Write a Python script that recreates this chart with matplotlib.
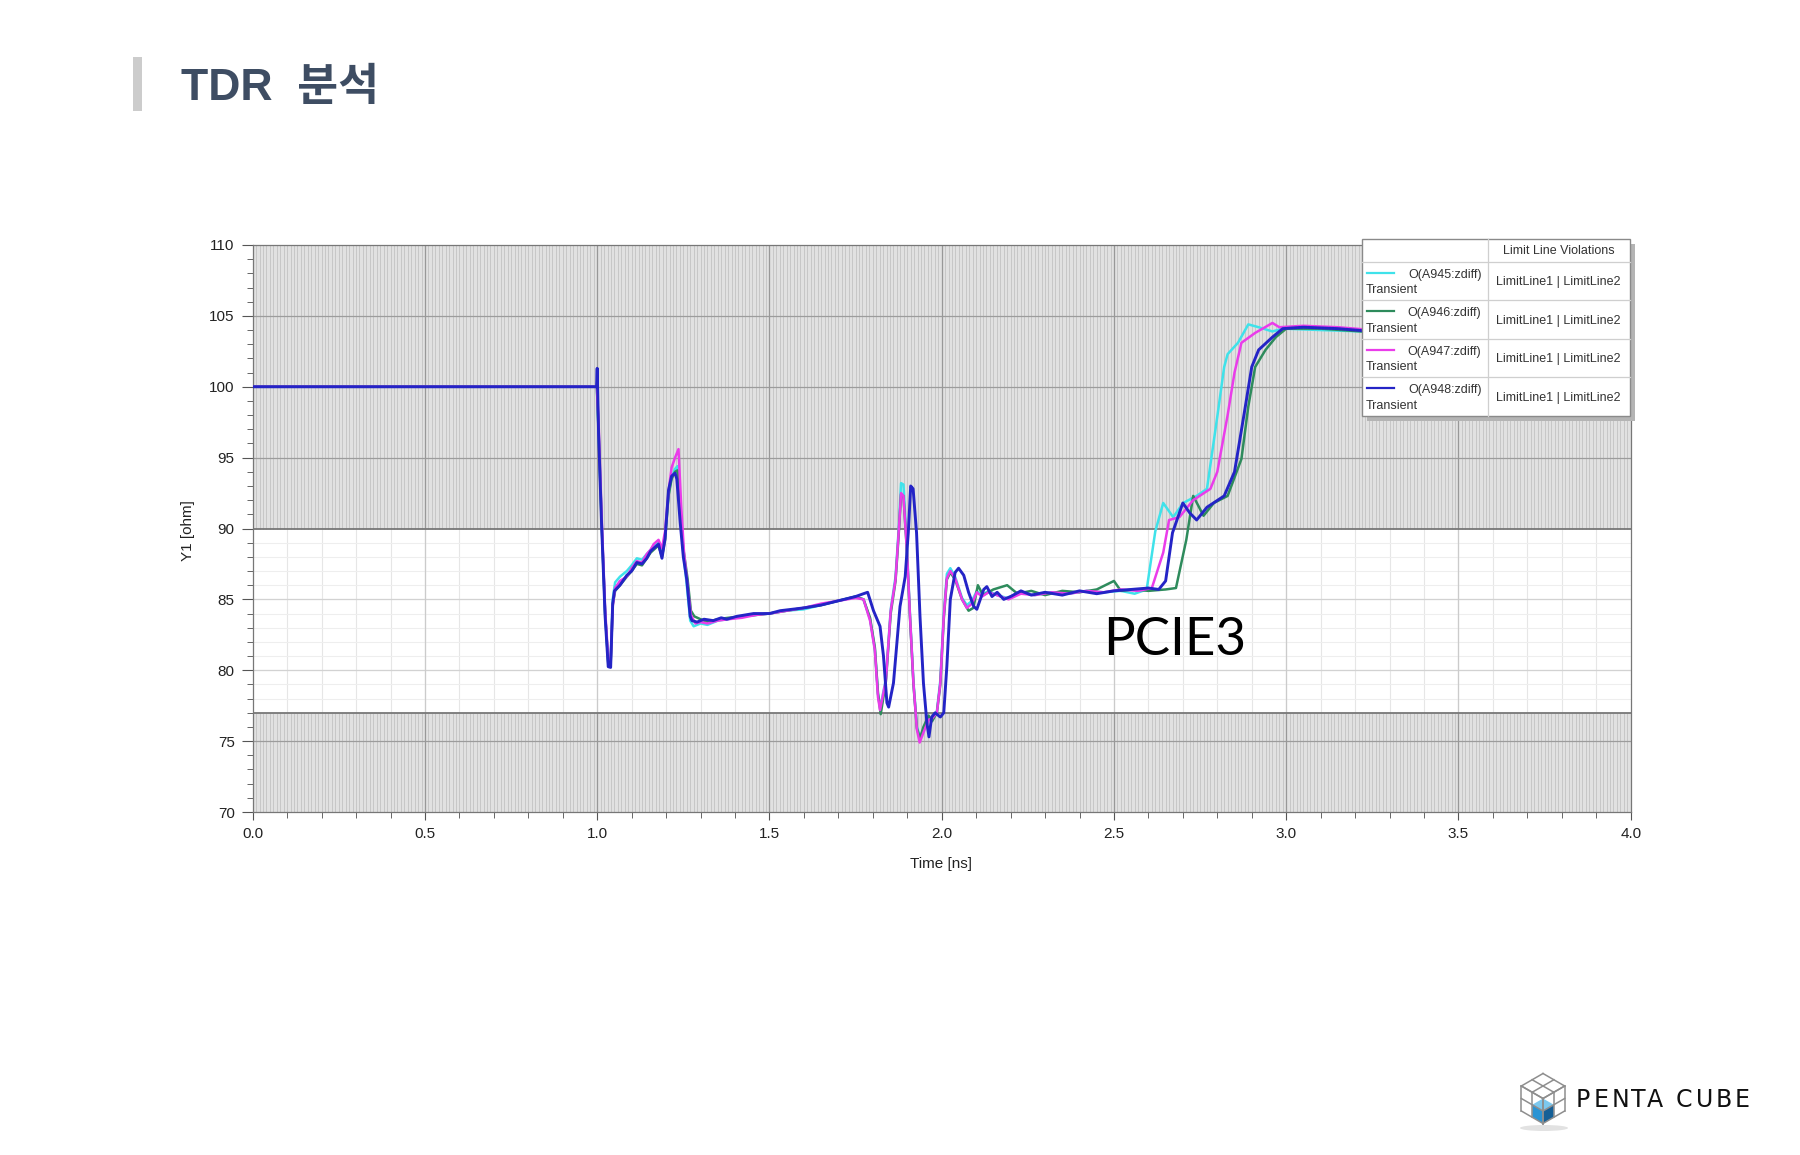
import numpy as np
import matplotlib
matplotlib.use('Agg')
import matplotlib.pyplot as plt
from matplotlib.patches import Rectangle, Polygon, Ellipse
from matplotlib.ticker import MultipleLocator, FormatStrFormatter

# ---------------- data ----------------
series_names = ['O(A945:zdiff)', 'O(A946:zdiff)', 'O(A947:zdiff)', 'O(A948:zdiff)']
series_sub = 'Transient'
violations = 'LimitLine1 | LimitLine2'
limit_upper = 90
limit_lower = 77

a945 = [(0.000,100.0),(0.999,100.0),(1.004,97.0),(1.013,90.5),(1.023,84.0),(1.032,80.6),(1.039,80.5),(1.045,85.0),
        (1.052,86.2),(1.066,86.6),(1.086,87.0),(1.100,87.4),(1.115,87.9),(1.130,87.8),(1.144,88.2),(1.155,88.5),
        (1.164,88.8),(1.178,89.0),(1.188,88.3),(1.197,89.5),(1.207,92.4),(1.216,93.6),(1.226,94.2),(1.233,94.4),
        (1.241,91.0),(1.250,88.3),(1.260,86.0),(1.270,83.5),(1.280,83.1),(1.300,83.3),(1.320,83.2),(1.350,83.5),
        (1.380,83.6),(1.420,83.8),(1.460,83.9),(1.500,84.0),(1.550,84.2),(1.600,84.3),(1.650,84.6),(1.700,84.9),
        (1.750,85.2),(1.773,85.0),(1.792,83.6),(1.806,81.5),(1.815,78.3),(1.822,77.4),(1.838,79.4),(1.852,84.3),
        (1.866,86.6),(1.875,89.9),(1.882,93.2),(1.889,93.1),(1.899,88.7),(1.908,83.9),(1.918,79.2),(1.928,76.0),
        (1.937,75.3),(1.947,75.8),(1.962,76.7),(1.972,76.5),(1.986,77.1),(1.996,79.3),(2.006,84.0),(2.015,86.8),
        (2.025,87.2),(2.039,86.6),(2.059,85.1),(2.073,84.6),(2.088,84.9),(2.102,85.6),(2.117,85.3),(2.136,85.6),
        (2.160,85.3),(2.190,85.1),(2.230,85.5),(2.270,85.3),(2.320,85.5),(2.370,85.4),(2.420,85.6),(2.470,85.5),
        (2.520,85.6),(2.560,85.4),(2.595,85.7),(2.620,89.8),(2.643,91.8),(2.672,90.8),(2.701,91.8),(2.740,92.3),
        (2.770,92.8),(2.800,97.9),(2.820,101.4),(2.830,102.3),(2.860,103.1),(2.890,104.4),(2.920,104.2),
        (2.960,103.9),(2.990,104.1),(3.100,104.0),(3.220,103.9),(3.500,103.9),(4.000,103.9)]

a946 = [(0.000,100.0),(0.999,100.0),(1.004,96.8),(1.013,90.3),(1.023,84.0),(1.032,80.5),(1.039,80.4),(1.045,84.6),
        (1.052,85.6),(1.066,86.0),(1.086,86.6),(1.100,87.0),(1.115,87.5),(1.130,87.4),(1.144,87.9),(1.155,88.3),
        (1.164,88.5),(1.178,88.8),(1.188,88.0),(1.197,89.2),(1.207,92.3),(1.216,93.5),(1.226,94.0),(1.233,94.1),
        (1.241,91.0),(1.250,88.6),(1.262,86.5),(1.272,84.2),(1.282,83.8),(1.300,83.6),(1.320,83.4),(1.350,83.6),
        (1.380,83.7),(1.420,83.8),(1.460,83.9),(1.500,84.0),(1.550,84.2),(1.600,84.4),(1.650,84.6),(1.700,84.9),
        (1.750,85.2),(1.773,85.0),(1.792,83.7),(1.806,81.6),(1.815,78.4),(1.823,76.9),(1.838,79.2),(1.852,84.0),
        (1.866,86.3),(1.875,89.5),(1.882,92.4),(1.889,92.3),(1.899,88.4),(1.908,83.7),(1.918,79.0),(1.928,75.9),
        (1.937,75.2),(1.947,76.0),(1.962,76.8),(1.972,76.4),(1.986,77.0),(1.996,79.0),(2.006,83.6),(2.015,86.4),
        (2.025,86.9),(2.039,86.4),(2.059,85.0),(2.078,84.2),(2.092,84.4),(2.105,86.0),(2.120,85.3),(2.150,85.7),
        (2.190,86.0),(2.220,85.4),(2.260,85.6),(2.300,85.3),(2.350,85.6),(2.400,85.5),(2.450,85.7),(2.500,86.3),
        (2.520,85.6),(2.560,85.7),(2.600,85.6),(2.650,85.7),(2.680,85.8),(2.710,89.2),(2.730,92.3),(2.760,90.9),
        (2.790,91.8),(2.830,92.3),(2.870,94.9),(2.890,98.6),(2.910,101.4),(2.940,102.6),(2.970,103.5),
        (3.000,104.1),(3.100,104.1),(3.220,103.9),(3.500,103.9),(4.000,103.9)]

a947 = [(0.000,100.0),(0.999,100.0),(1.004,97.5),(1.013,90.8),(1.023,84.3),(1.032,80.8),(1.039,80.6),(1.045,84.5),
        (1.052,85.8),(1.066,86.3),(1.086,86.6),(1.100,87.2),(1.115,87.7),(1.130,87.6),(1.144,88.2),(1.155,88.5),
        (1.164,88.9),(1.178,89.2),(1.188,88.6),(1.197,89.8),(1.207,92.6),(1.216,94.3),(1.226,95.0),(1.236,95.6),
        (1.244,91.5),(1.252,88.3),(1.262,86.0),(1.272,83.9),(1.285,83.3),(1.300,83.4),(1.320,83.3),(1.350,83.5),
        (1.380,83.6),(1.420,83.7),(1.460,83.9),(1.500,84.0),(1.550,84.2),(1.600,84.4),(1.650,84.7),(1.700,84.9),
        (1.750,85.1),(1.773,85.0),(1.792,83.5),(1.806,81.4),(1.815,78.1),(1.821,77.2),(1.838,79.3),(1.852,84.2),
        (1.866,86.4),(1.875,89.7),(1.882,92.5),(1.889,92.3),(1.899,88.5),(1.908,83.8),(1.918,79.1),(1.928,75.8),
        (1.936,74.9),(1.947,75.6),(1.962,76.5),(1.972,76.6),(1.986,77.0),(1.996,79.1),(2.006,83.8),(2.015,86.5),
        (2.025,87.0),(2.039,86.5),(2.059,85.0),(2.073,84.4),(2.088,84.7),(2.102,85.5),(2.117,85.2),(2.136,85.5),
        (2.160,85.3),(2.194,85.0),(2.230,85.4),(2.270,85.3),(2.320,85.5),(2.370,85.4),(2.420,85.6),(2.470,85.5),
        (2.520,85.7),(2.570,85.6),(2.610,85.8),(2.643,88.3),(2.660,90.6),(2.690,90.8),(2.730,92.0),(2.780,92.8),
        (2.800,94.0),(2.830,98.0),(2.850,101.0),(2.870,103.1),(2.910,103.8),(2.960,104.5),(2.980,104.2),
        (3.050,104.3),(3.150,104.2),(3.250,104.0),(3.500,103.9),(4.000,103.9)]

a948 = [(0.000,100.0),(0.998,100.0),(1.000,101.3),(1.004,96.7),(1.013,90.1),(1.023,83.8),(1.032,80.25),(1.039,80.2),
        (1.045,84.7),(1.050,85.6),(1.066,86.0),(1.086,86.7),(1.100,87.0),(1.115,87.6),(1.130,87.5),(1.144,87.9),
        (1.155,88.4),(1.164,88.6),(1.178,88.9),(1.188,87.9),(1.197,89.3),(1.207,92.7),(1.216,93.7),(1.226,93.9),
        (1.231,93.5),(1.241,90.4),(1.250,88.0),(1.260,86.4),(1.270,83.8),(1.275,83.5),(1.290,83.4),(1.310,83.6),
        (1.337,83.5),(1.360,83.7),(1.376,83.6),(1.405,83.8),(1.454,84.0),(1.500,84.0),(1.531,84.2),(1.600,84.4),
        (1.650,84.6),(1.700,84.9),(1.750,85.2),(1.773,85.4),(1.785,85.5),(1.802,84.2),(1.821,83.1),(1.831,81.0),
        (1.841,77.7),(1.846,77.4),(1.860,79.1),(1.879,84.5),(1.894,86.6),(1.903,89.7),(1.910,93.0),(1.917,92.8),
        (1.927,89.7),(1.937,83.8),(1.947,79.1),(1.957,76.3),(1.963,75.3),(1.971,76.7),(1.981,77.0),(1.996,76.7),
        (2.006,77.0),(2.015,80.3),(2.025,85.0),(2.039,86.9),(2.049,87.2),(2.064,86.7),(2.078,85.5),(2.093,84.5),
        (2.102,84.3),(2.122,85.7),(2.131,85.9),(2.146,85.2),(2.161,85.5),(2.180,85.0),(2.200,85.2),(2.230,85.6),
        (2.260,85.3),(2.300,85.5),(2.350,85.3),(2.400,85.6),(2.450,85.4),(2.500,85.6),(2.550,85.7),(2.600,85.8),
        (2.630,85.7),(2.650,86.3),(2.670,89.7),(2.700,91.8),(2.720,91.1),(2.740,90.6),(2.770,91.5),(2.820,92.3),
        (2.850,94.0),(2.880,98.4),(2.900,101.4),(2.920,102.6),(2.960,103.5),(2.990,104.1),(3.050,104.2),
        (3.150,104.1),(3.250,103.9),(3.500,103.9),(4.000,103.9)]

series_data = [a945, a946, a947, a948]
x_ticks = [0.0, 0.5, 1.0, 1.5, 2.0, 2.5, 3.0, 3.5, 4.0]
y_ticks = [70, 75, 80, 85, 90, 95, 100, 105, 110]

# ---------------- styles ----------------
series_colors = ['#3fe2ea', '#2e8b5c', '#ea3cea', '#2424c6']
series_lw = [1.8, 1.8, 1.8, 2.1]
TXT = ['Liberation Sans', 'DejaVu Sans']

fig = plt.figure(figsize=(18, 11.55), dpi=100)
fig.patch.set_facecolor('white')

L, R, T, B = 252.7, 1630.7, 245.0, 812.0
ax = fig.add_axes([L / 1800, 1 - B / 1155, (R - L) / 1800, (B - T) / 1155])
ax.set_xlim(0, 4)
ax.set_ylim(70, 110)
ax.set_facecolor('white')

# shaded violation zones with dense vertical hatch
ax.axhspan(limit_upper, 110, color='#e1e1e1', zorder=0, lw=0)
ax.axhspan(70, limit_lower, color='#e1e1e1', zorder=0, lw=0)
fine = np.arange(0.01, 4.0, 0.01)
ax.vlines(fine, limit_upper, 110, color='#c0c0c0', lw=0.55, zorder=0.5)
ax.vlines(fine, 70, limit_lower, color='#c0c0c0', lw=0.55, zorder=0.5)
# white zone light grid
ax.vlines(np.arange(0.1, 4.0, 0.1), limit_lower, limit_upper, color='#e6e6e6', lw=0.8, zorder=0.5)
ax.hlines(np.arange(78, 90, 1), 0, 4, color='#eeeeee', lw=0.8, zorder=0.5)
ax.hlines([80, 85], 0, 4, color='#d2d2d2', lw=0.9, zorder=0.6)
ax.vlines(np.arange(0.5, 4.0, 0.5), limit_lower, limit_upper, color='#cbcbcb', lw=0.9, zorder=0.6)
# darker major grid in grey zones
ax.hlines([95, 100, 105, 75], 0, 4, color='#9c9c9c', lw=0.9, zorder=0.6)
ax.vlines(np.arange(0.5, 4.0, 0.5), limit_upper, 110, color='#989898', lw=0.9, zorder=0.6)
ax.vlines(np.arange(0.5, 4.0, 0.5), 70, limit_lower, color='#989898', lw=0.9, zorder=0.6)
# limit lines
ax.hlines([limit_upper, limit_lower], 0, 4, color='#777777', lw=1.3, zorder=1)

for data, c, lw in zip(series_data, series_colors, series_lw):
    t, z = zip(*data)
    ax.plot(t, z, color=c, lw=lw, zorder=3, solid_joinstyle='round')

ax.text(2.47, 82.1, 'PCIE3', fontsize=38, family=['Lato', 'DejaVu Sans'], color='black',
        va='center', ha='left', zorder=4)

ax.set_xticks(x_ticks)
ax.set_yticks(y_ticks)
ax.xaxis.set_major_formatter(FormatStrFormatter('%.1f'))
ax.xaxis.set_minor_locator(MultipleLocator(0.1))
ax.yaxis.set_minor_locator(MultipleLocator(1))
ax.tick_params(axis='both', which='major', direction='out', length=8, width=0.8, color='#555555',
               labelsize=11, labelcolor='#222222')
ax.tick_params(axis='y', which='major', length=8, pad=5)
ax.tick_params(axis='x', which='major', length=6, pad=5)
ax.tick_params(axis='both', which='minor', direction='out', length=4, width=0.7, color='#666666')
for lab in ax.get_xticklabels() + ax.get_yticklabels():
    lab.set_family(TXT)
for s in ax.spines.values():
    s.set_color('#777777')
    s.set_linewidth(0.9)

ax.set_xlabel('Time [ns]', fontsize=11, family=TXT, color='#222222')
ax.set_ylabel('Y1 [ohm]', fontsize=11, family=TXT, color='#222222')
ax.xaxis.set_label_coords(0.4995, -0.079)
ax.yaxis.set_label_coords(-0.042, 0.497)

# ---------------- overlay in pixel coordinates ----------------
ov = fig.add_axes([0, 0, 1, 1], zorder=5)
ov.set_xlim(0, 1800)
ov.set_ylim(1155, 0)
ov.axis('off')
ov.patch.set_alpha(0)

# title
ov.add_patch(Rectangle((133, 57), 9, 54, color='#cccccc', lw=0))
ov.text(181, 88, 'TDR  분석', fontsize=32, fontweight='bold', color='#3e4d63',
        family=['Liberation Sans', 'Noto Sans CJK KR'], va='center', ha='left')

# legend table
lx0, ly0, lx1, ly1 = 1361.5, 238.5, 1630.0, 416.0
ov.add_patch(Rectangle((lx0 + 5, ly0 + 5), lx1 - lx0, ly1 - ly0, color='#b4b4b4', lw=0))
ov.add_patch(Rectangle((lx0, ly0), lx1 - lx0, ly1 - ly0, facecolor='white', edgecolor='#8a8a8a', lw=1.0))
col_x = 1487.5
ov.plot([col_x, col_x], [ly0, ly1], color='#cfcfcf', lw=0.9)
head_b = 261.7
row_h = (ly1 - head_b) / 4
ov.plot([lx0, lx1], [head_b, head_b], color='#cfcfcf', lw=0.9)
ov.text((col_x + lx1) / 2, (ly0 + head_b) / 2 + 0.5, 'Limit Line Violations', fontsize=9, family=TXT,
        color='#333333', ha='center', va='center')
for i, (name, c) in enumerate(zip(series_names, series_colors)):
    top = head_b + i * row_h
    if i > 0:
        ov.plot([lx0, lx1], [top, top], color='#cfcfcf', lw=0.9)
    ov.plot([1366.5, 1393.5], [top + 11, top + 11], color=c, lw=1.6)
    ov.text(1481.5, top + 13, name, fontsize=9, family=TXT, color='#333333', ha='right', va='center')
    ov.text(1366.0, top + 28.5, series_sub, fontsize=9, family=TXT, color='#333333', ha='left', va='center')
    ov.text((col_x + lx1) / 2, top + row_h / 2 + 1, violations, fontsize=9, family=TXT, color='#333333',
            ha='center', va='center')

# logo: isometric 2x2x2 cube wireframe with blue corner cube
cx, cy, s = 1543.0, 1098.5, 12.5
def P(x, y, z):
    return (cx + (x - y) * 0.866 * s, cy - (z - (x + y) * 0.5) * s)

ov.add_patch(Ellipse((cx + 1, 1128), 48, 6, color='#e2e2e2', lw=0))
edge = '#8e8e8e'
for k in (0, 1, 2):
    for seg in ([P(k, 0, 2), P(k, 2, 2)], [P(0, k, 2), P(2, k, 2)],
                [P(2, k, 0), P(2, k, 2)], [P(2, 0, k), P(2, 2, k)],
                [P(k, 2, 0), P(k, 2, 2)], [P(0, 2, k), P(2, 2, k)]):
        (x0, y0), (x1, y1) = seg
        ov.plot([x0, x1], [y0, y1], color=edge, lw=1.1)
ov.add_patch(Polygon([P(1, 1, 1), P(2, 1, 1), P(2, 2, 1), P(1, 2, 1)], closed=True, color='#7cc8ee', lw=0))
ov.add_patch(Polygon([P(2, 1, 0), P(2, 1, 1), P(2, 2, 1), P(2, 2, 0)], closed=True, color='#155f96', lw=0))
ov.add_patch(Polygon([P(1, 2, 0), P(1, 2, 1), P(2, 2, 1), P(2, 2, 0)], closed=True, color='#2a94d4', lw=0))

logo_letters = 'PENTA CUBE'
logo_x = [1583.0, 1601.3, 1620.2, 1638.0, 1654.7, None, 1684.3, 1704.2, 1723.6, 1742.4]
for ch, px in zip(logo_letters, logo_x):
    if px is None:
        continue
    ov.text(px, 1100, ch, fontsize=17, family=['DejaVu Sans'], color='#111111', ha='center', va='center')

fig.savefig('out.png', dpi=100, facecolor='white')
